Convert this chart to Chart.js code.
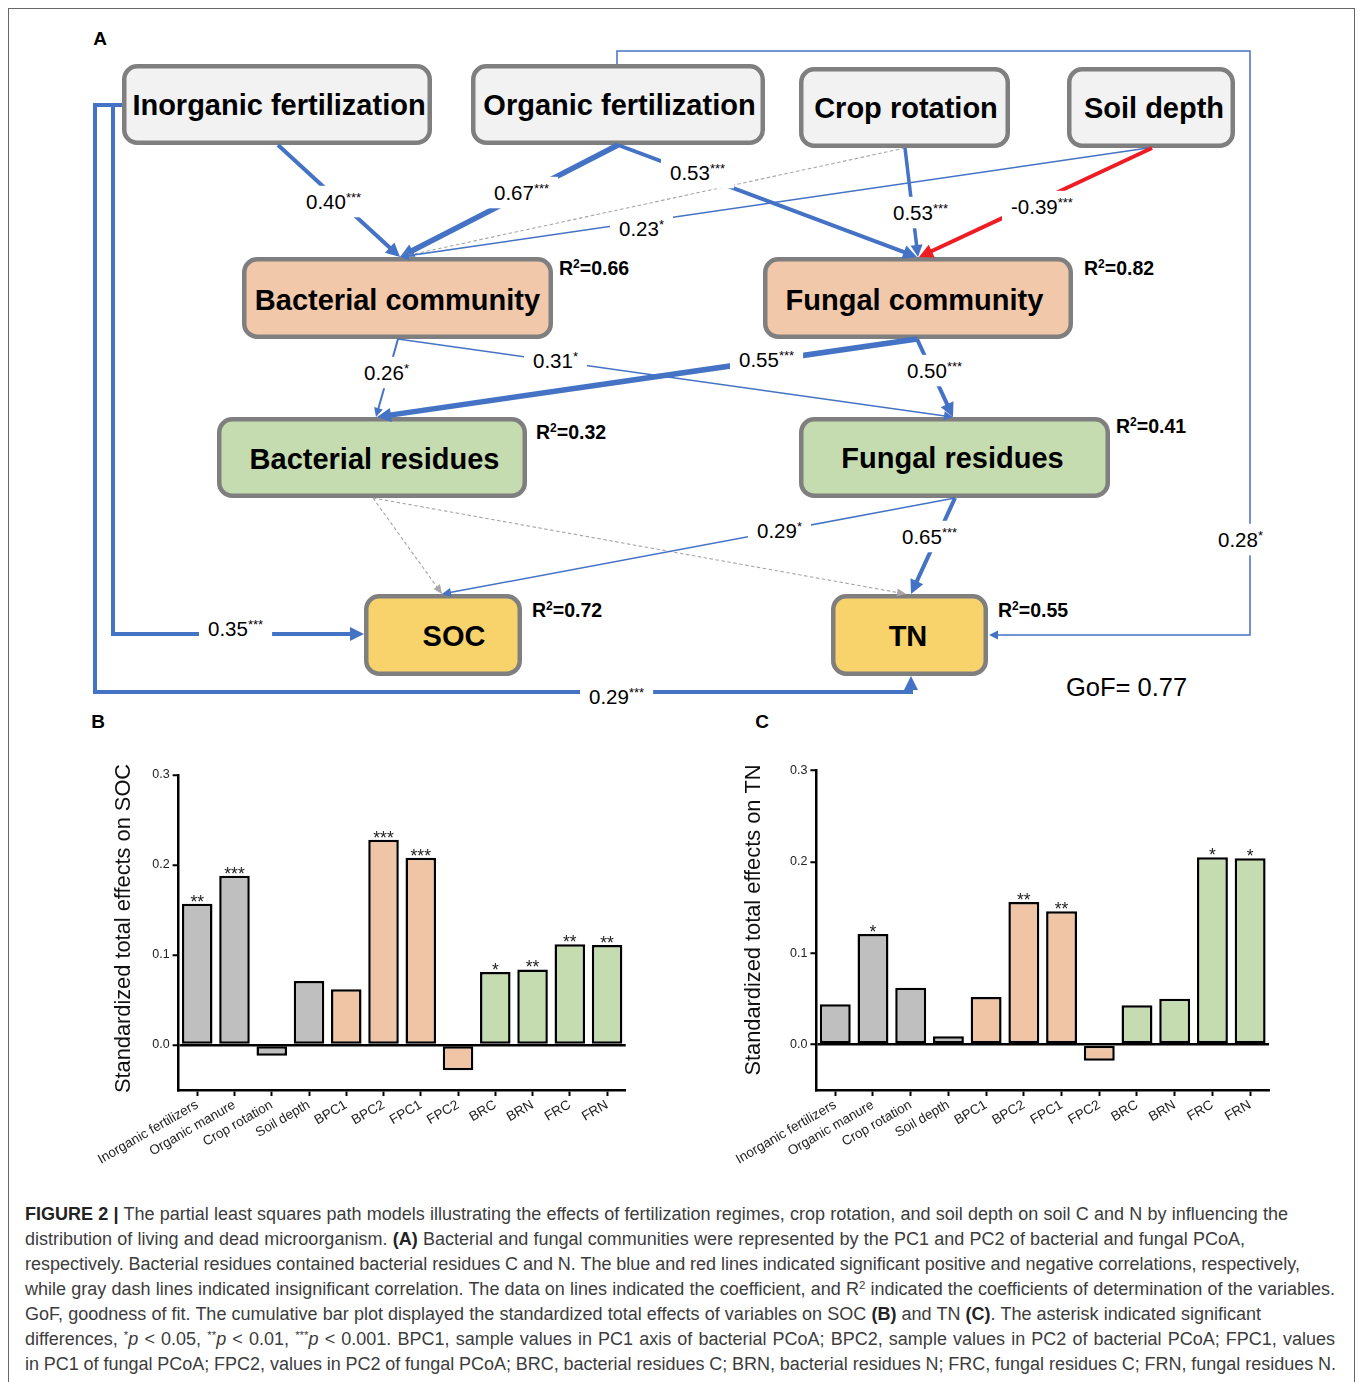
<!DOCTYPE html>
<html>
<head>
<meta charset="utf-8">
<script src="https://cdn.jsdelivr.net/npm/chart.js@4"></script>
<style>
  html, body { margin:0; padding:0; }
  body { width:1360px; height:1382px; overflow:hidden; background:#fff; position:relative;
         font-family:"Liberation Sans", Arial, Helvetica, sans-serif; }
  #frame { position:absolute; left:8px; top:8px; width:1347px; height:1420px;
           border:1.5px solid #666; box-sizing:border-box; }
  #diagram { position:absolute; left:0; top:0; }
  canvas { position:absolute; }
  .cap { position:absolute; left:25px; white-space:nowrap; font-size:18px; line-height:25px;
         color:#3c3c3c; display:inline-block; }
  .cap b { color:#222; }
  .cap sup { font-size:11.5px; line-height:0; vertical-align:6px; }
</style>
</head>
<body>
<div id="frame"></div>
<svg id="diagram" width="1360" height="740" xmlns="http://www.w3.org/2000/svg"></svg>
<canvas id="socChart" width="560" height="430" style="left:90px;top:750px;width:560px;height:430px"></canvas>
<canvas id="tnChart" width="560" height="435" style="left:730px;top:745px;width:560px;height:435px"></canvas>

<div class="cap" style="top:1202px"><b>FIGURE 2 |</b> The partial least squares path models illustrating the effects of fertilization regimes, crop rotation, and soil depth on soil C and N by influencing the</div>
<div class="cap" style="top:1227px">distribution of living and dead microorganism. <b>(A)</b> Bacterial and fungal communities were represented by the PC1 and PC2 of bacterial and fungal PCoA,</div>
<div class="cap" style="top:1252px">respectively. Bacterial residues contained bacterial residues C and N. The blue and red lines indicated significant positive and negative correlations, respectively,</div>
<div class="cap" style="top:1277px">while gray dash lines indicated insignificant correlation. The data on lines indicated the coefficient, and R<sup>2</sup> indicated the coefficients of determination of the variables.</div>
<div class="cap" style="top:1302px">GoF, goodness of fit. The cumulative bar plot displayed the standardized total effects of variables on SOC <b>(B)</b> and TN <b>(C)</b>. The asterisk indicated significant</div>
<div class="cap" style="top:1327px">differences, <sup>*</sup><i>p</i> &lt; 0.05, <sup>**</sup><i>p</i> &lt; 0.01, <sup>***</sup><i>p</i> &lt; 0.001. BPC1, sample values in PC1 axis of bacterial PCoA; BPC2, sample values in PC2 of bacterial PCoA; FPC1, values</div>
<div class="cap" style="top:1352px">in PC1 of fungal PCoA; FPC2, values in PC2 of fungal PCoA; BRC, bacterial residues C; BRN, bacterial residues N; FRC, fungal residues C; FRN, fungal residues N.</div>

<script>
// ---------------- DATA ----------------
// Panel B / C bar charts
const categories = ['Inorganic fertilizers','Organic manure','Crop rotation','Soil depth','BPC1','BPC2','FPC1','FPC2','BRC','BRN','FRC','FRN'];
const categoryGroup = ['factor','factor','factor','factor','community','community','community','community','residue','residue','residue','residue'];
const socEffects = [0.157, 0.188, -0.012, 0.071, 0.062, 0.228, 0.208, -0.028, 0.081, 0.084, 0.112, 0.111];
const socSignif  = ['**','***','','','','***','***','','*','**','**','**'];
const tnEffects  = [0.044, 0.121, 0.062, 0.009, 0.052, 0.156, 0.146, -0.018, 0.043, 0.050, 0.205, 0.204];
const tnSignif   = ['','*','','','','**','**','','','','*','*'];
const yTicks = [0.0, 0.1, 0.2, 0.3];

// Panel A path model
const nodeNames = ['Inorganic fertilization','Organic fertilization','Crop rotation','Soil depth','Bacterial community','Fungal community','Bacterial residues','Fungal residues','SOC','TN'];
const nodeR2    = [null, null, null, null, 0.66, 0.82, 0.32, 0.41, 0.72, 0.55];
const pathFrom  = [0,0,1,1,1,2,3,3,4,4,5,5,6,6,7,7,0,1];
const pathTo    = [4,8,4,5,9,4,4,5,6,7,6,7,8,9,8,9,9,5];
const pathCoef  = [0.40, 0.35, 0.67, 0.53, 0.28, null, 0.23, -0.39, 0.26, 0.31, 0.55, 0.50, null, null, 0.29, 0.65, 0.29, 0.53];
const pathSignif= ['***','***','***','***','*','','*','***','*','*','***','***','','','*','***','***','***'];
const goodnessOfFit = 0.77;

// ---------------- STYLE / LAYOUT ----------------
const groupColor = { factor:'#bfbfbf', community:'#efc5a5', residue:'#c4dcaf' };
const nodeLayout = [
  {x:122, y:64,  w:310, h:81, fill:'#f2f2f2', tx:279,   ty:105},
  {x:471, y:64,  w:294, h:81, fill:'#f2f2f2', tx:619.5, ty:105},
  {x:799, y:67,  w:211, h:81, fill:'#f2f2f2', tx:906,   ty:108},
  {x:1067,y:67,  w:168, h:81, fill:'#f2f2f2', tx:1154,  ty:108},
  {x:242, y:257, w:311, h:82, fill:'#f2c8aa', tx:397.5, ty:300, r2x:559,  r2y:268},
  {x:763, y:257, w:310, h:82, fill:'#f2c8aa', tx:914.5, ty:300, r2x:1084, r2y:268},
  {x:217, y:417, w:310, h:81, fill:'#c5dcb1', tx:374.5, ty:459, r2x:536,  r2y:432},
  {x:799, y:417, w:311, h:81, fill:'#c5dcb1', tx:952.5, ty:458, r2x:1116, r2y:426},
  {x:364, y:594, w:158, h:82, fill:'#f8d36b', tx:454,   ty:636, r2x:532,  r2y:610},
  {x:831, y:594, w:157, h:82, fill:'#f8d36b', tx:908,   ty:636, r2x:998,  r2y:610}
];
// route, stroke width and label anchor for each path (same order as pathFrom)
const pathLayout = [
  {pts:[[278,145],[400,257]], w:4, lx:306, ly:202},
  {pts:[[122,105],[113,105],[113,634],[364,634]], w:4, lx:208, ly:629},
  {pts:[[618,145],[400,257]], w:5.5, lx:494, ly:193},
  {pts:[[618,145],[917,257]], w:4, lx:670, ly:173},
  {pts:[[617,64],[617,51],[1250,51],[1250,635],[989,635]], w:1.5, lx:1218, ly:540},
  {pts:[[905,148],[400,257]], w:1},
  {pts:[[1148,148],[400,257]], w:1.5, lx:619, ly:229},
  {pts:[[1152,148],[919,257]], w:4, lx:1011, ly:207},
  {pts:[[398,339],[376,417]], w:2, lx:364, ly:373},
  {pts:[[398,339],[953,417]], w:1.5, lx:533, ly:361},
  {pts:[[917,339],[377,417]], w:5.5, lx:739, ly:360},
  {pts:[[917,339],[953,417]], w:4, lx:907, ly:371},
  {pts:[[373,498],[442,594]], w:1},
  {pts:[[373,498],[906,594]], w:1},
  {pts:[[955,498],[442,594]], w:1.5, lx:757, ly:531},
  {pts:[[955,498],[911,594]], w:4, lx:902, ly:537},
  {pts:[[122,105],[95,105],[95,692],[911,692],[911,676]], w:4, lx:589, ly:697},
  {pts:[[905,148],[918,257]], w:3.5, lx:893, ly:213}
];

// ---------------- PANEL A (SVG diagram) ----------------
const NS = 'http://www.w3.org/2000/svg';
const svg = document.getElementById('diagram');
function mk(tag, attrs, parent) {
  const e = document.createElementNS(NS, tag);
  for (const k in attrs) e.setAttribute(k, attrs[k]);
  (parent || svg).appendChild(e);
  return e;
}
const FONT = '"Liberation Sans", Arial, Helvetica, sans-serif';

// panel letters
[['A',100,45],['B',98,728],['C',762,728]].forEach(([t,x,y]) => {
  const e = mk('text', {x:x, y:y, 'text-anchor':'middle', 'font-family':FONT, 'font-weight':'bold', 'font-size':19, fill:'#000'});
  e.textContent = t;
});

// boxes
nodeLayout.forEach((n, i) => {
  mk('rect', {x:n.x+2.25, y:n.y+2.25, width:n.w-4.5, height:n.h-4.5, rx:13, ry:13,
              fill:n.fill, stroke:'#7f7f7f', 'stroke-width':4.5});
  const t = mk('text', {x:n.tx, y:n.ty+10.4, 'text-anchor':'middle', 'font-family':FONT,
              'font-weight':'bold', 'font-size':29, fill:'#000'});
  t.textContent = nodeNames[i];
  if (nodeR2[i] !== null) {
    const r = mk('text', {x:n.r2x, y:n.r2y+7, 'font-family':FONT, 'font-weight':'bold', 'font-size':19.5, fill:'#000'});
    const a = mk('tspan', {}, r); a.textContent = 'R';
    const b = mk('tspan', {'font-size':12, dy:-7}, r); b.textContent = '2';
    const c = mk('tspan', {dy:7}, r); c.textContent = '=' + nodeR2[i].toFixed(2);
  }
});

// paths
const BLUE = '#4472c4', RED = '#ee1d23', GRAY = '#a6a6a6';
pathLayout.forEach((L, i) => {
  const coef = pathCoef[i];
  const sig = pathSignif[i] !== '';
  const color = !sig ? GRAY : (coef < 0 ? RED : BLUE);
  const pts = L.pts.map(p => p.slice());
  const n = pts.length;
  const [x1,y1] = pts[n-2], [x2,y2] = pts[n-1];
  const dx = x2-x1, dy = y2-y1, len = Math.hypot(dx,dy);
  const ux = dx/len, uy = dy/len;
  let AL, AW;
  if (!sig) { AL = 9; AW = 4; }
  else if (L.w >= 4) { AL = 14; AW = 7; }
  else if (L.w >= 3) { AL = 12; AW = 6; }
  else { AL = 9; AW = 4.5; }
  const bx = x2 - ux*AL, by = y2 - uy*AL;
  pts[n-1] = [bx + ux*1, by + uy*1];
  const attrs = {points: pts.map(p => p.join(',')).join(' '), fill:'none', stroke:color,
                 'stroke-width': sig ? L.w : 1.1, 'stroke-linejoin':'miter'};
  if (!sig) attrs['stroke-dasharray'] = '3.5,2.5';
  mk('polyline', attrs);
  mk('polygon', {points: [[x2,y2],[bx - uy*AW, by + ux*AW],[bx + uy*AW, by - ux*AW]].map(p=>p.join(',')).join(' '),
                 fill: color});
});

// coefficient labels with white gaps
pathLayout.forEach((L, i) => {
  if (pathCoef[i] === null || L.lx === undefined) return;
  const g = mk('g', {});
  const bg = mk('rect', {fill:'#fff'}, g);
  const t = mk('text', {x:L.lx, y:L.ly+7.3, 'font-family':FONT, 'font-size':20.5, fill:'#000'}, g);
  const a = mk('tspan', {}, t); a.textContent = pathCoef[i].toFixed(2);
  const b = mk('tspan', {'font-size':13, dy:-7.5}, t); b.textContent = pathSignif[i];
  const bb = t.getBBox();
  bg.setAttribute('x', bb.x - 9); bg.setAttribute('y', bb.y - 4);
  bg.setAttribute('width', bb.width + 18); bg.setAttribute('height', bb.height + 8);
});

// GoF
const gof = mk('text', {x:1066, y:695.5, 'font-family':FONT, 'font-size':25.5, fill:'#000'});
gof.textContent = 'GoF= ' + goodnessOfFit.toFixed(2);

// ---------------- PANELS B & C (Chart.js) ----------------
Chart.defaults.font.family = FONT;
Chart.defaults.color = '#222';

const barColors = categoryGroup.map(g => groupColor[g]);

const sigPlugin = {
  id: 'sigLabels',
  afterDatasetsDraw(chart, args, opts) {
    const ctx = chart.ctx;
    const meta = chart.getDatasetMeta(0);
    ctx.save();
    ctx.font = '17.5px ' + FONT;
    ctx.fillStyle = '#222';
    ctx.textAlign = 'center';
    ctx.textBaseline = 'alphabetic';
    meta.data.forEach((bar, i) => {
      const s = opts.labels[i];
      if (!s) return;
      ctx.fillText(s, bar.x, Math.min(bar.y, bar.base) + 4);
    });
    ctx.restore();
  }
};

const axisTitlePlugin = {
  id: 'axisTitle',
  afterDraw(chart, args, opts) {
    const ctx = chart.ctx;
    ctx.save();
    ctx.font = '21.8px ' + FONT;
    ctx.fillStyle = '#111';
    ctx.textAlign = 'center';
    ctx.textBaseline = 'middle';
    ctx.translate(opts.x, opts.y);
    ctx.rotate(-Math.PI / 2);
    ctx.fillText(opts.text, 0, 0);
    ctx.restore();
  }
};

function makeChart(id, values, signif, title, geo) {
  return new Chart(document.getElementById(id), {
    type: 'bar',
    data: {
      labels: categories,
      datasets: [{
        data: values,
        backgroundColor: barColors,
        borderColor: '#000',
        borderWidth: 2.5,
        borderSkipped: false,
        barPercentage: 0.82,
        categoryPercentage: 1
      }]
    },
    plugins: [sigPlugin, axisTitlePlugin],
    options: {
      responsive: false,
      animation: false,
      devicePixelRatio: 1,
      layout: { padding: { top: geo.padTop, right: geo.padRight, left: 0, bottom: 0 } },
      plugins: { legend: { display: false }, tooltip: { enabled: false },
                 sigLabels: { labels: signif },
                 axisTitle: { text: title, x: geo.titleX, y: geo.titleY } },
      scales: {
        x: {
          grid: { offset: false, drawOnChartArea: false, tickColor: '#000', tickLength: 6, tickWidth: 2 },
          border: { color: '#000', width: 2.5 },
          ticks: { minRotation: 30, maxRotation: 30, autoSkip: false, font: { size: 13.5 }, color: '#222', padding: 1 },
          afterFit: s => { s.height = geo.xHeight; }
        },
        y: {
          min: -0.05, max: 0.3,
          afterBuildTicks: s => { s.ticks = yTicks.map(v => ({ value: v })); },
          grid: {
            color: c => (c.tick && Math.abs(c.tick.value) < 1e-9) ? '#000' : 'rgba(0,0,0,0)',
            lineWidth: 2.5, tickColor: '#000', tickLength: 6, tickWidth: 2
          },
          border: { color: '#000', width: 2.5 },
          ticks: { font: { size: 12.5 }, color: '#222', padding: 3, callback: v => Number(v).toFixed(1) },
          afterFit: s => { s.width = geo.yWidth; }
        }
      }
    }
  });
}

makeChart('socChart', socEffects, socSignif, 'Standardized total effects on SOC',
          { padTop: 25, padRight: 24.3, xHeight: 90, yWidth: 88.6, titleX: 34, titleY: 178.5 });
makeChart('tnChart', tnEffects, tnSignif, 'Standardized total effects on TN',
          { padTop: 25.7, padRight: 21, xHeight: 90, yWidth: 86.4, titleX: 24, titleY: 175 });

// ---------------- caption justification to reference line lengths ----------------
const capRight = [1288, 1245, 1300, 1335, 1261, 1335, 1336];
document.querySelectorAll('.cap').forEach((el, i) => {
  const w = el.getBoundingClientRect().width;
  const spaces = (el.textContent.match(/ /g) || []).length;
  const target = capRight[i] - 25;
  if (spaces > 0) el.style.wordSpacing = ((target - w) / spaces).toFixed(3) + 'px';
});
</script>
</body>
</html>
